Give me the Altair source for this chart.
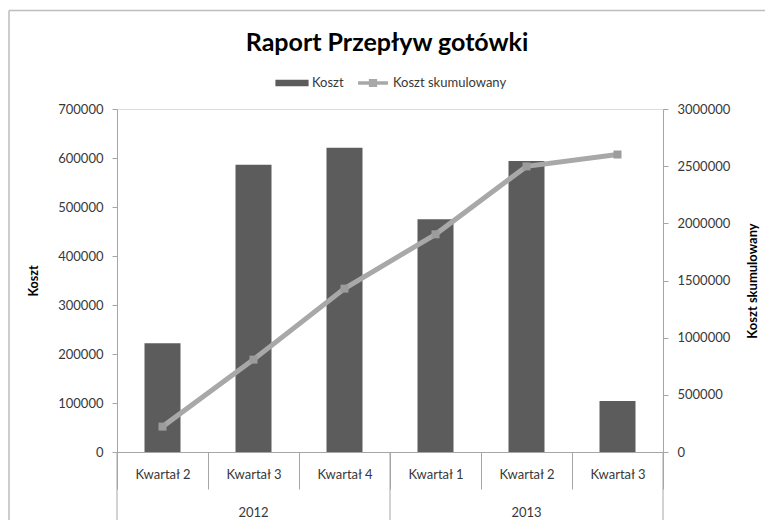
import altair as alt
import pandas as pd

# ---- data ----
years = ["2012", "2012", "2012", "2013", "2013", "2013"]
quarters = ["Kwartał 2", "Kwartał 3", "Kwartał 4", "Kwartał 1", "Kwartał 2", "Kwartał 3"]
koszt = [222000, 586000, 621000, 475000, 594000, 104000]
koszt_skum = [222000, 808000, 1429000, 1904000, 2498000, 2602000]
year_labels = ["2012", "2013"]
year_mid_quarter = ["Kwartał 3", "Kwartał 2"]
series_names = ["Koszt", "Koszt skumulowany"]

keys = [f"{y}|{q}" for y, q in zip(years, quarters)]

rows = []
for k, v in zip(keys, koszt):
    rows.append({"key": k, "series": series_names[0], "value": v})
for k, v in zip(keys, koszt_skum):
    rows.append({"key": k, "series": series_names[1], "value": v})
df = pd.DataFrame(rows)

df_years = pd.DataFrame({"key": [f"{y}|{q}" for y, q in zip(year_labels, year_mid_quarter)],
                         "label": year_labels})
df_starts = pd.DataFrame({"key": [keys[0], keys[3]]})
df_end = pd.DataFrame({"key": [keys[-1]]})
df_frame = pd.DataFrame({"a": [0]})

W, H = 546, 343
FONT = "Lato"
AX = "#a6a6a6"
LBL = "#383838"
BAR = "#5c5c5c"
LINE = "#a8a8a8"

RECT_PATH = "M-1,-0.2H1V0.2H-1Z"
LINE_PATH = "M-0.9,-0.11H-0.25V-0.24H0.25V-0.11H0.9V0.11H0.25V0.24H-0.25V0.11H-0.9Z"

xscale = alt.Scale(domain=keys, paddingInner=0, paddingOuter=0)

x_axis = alt.Axis(
    title=None, labelExpr="split(datum.label, '|')[1]", labelAngle=0,
    tickBand="extent", tickSize=37, tickColor=AX, domainColor=AX,
    labelPadding=-21, labelFont=FONT, labelFontSize=13, labelColor=LBL,
    labelBaseline="top",
)

base = alt.Chart(df)

bars = base.transform_filter(alt.datum.series == series_names[0]).mark_bar(size=36, color=BAR).encode(
    x=alt.X("key:O", scale=xscale, axis=x_axis, sort=keys),
    y=alt.Y("value:Q", scale=alt.Scale(domain=[0, 700000]),
            axis=alt.Axis(title="Koszt", values=list(range(0, 700001, 100000)), grid=False,
                          tickSize=5, tickColor=AX, domainColor=AX, labelPadding=9,
                          labelFont=FONT, labelFontSize=13, labelColor=LBL,
                          titleFont=FONT, titleFontSize=12.5, titleFontWeight="bold", titleColor="black",
                          titleX=-84, titleY=H / 2, titleAngle=270, titleAlign="center",
                          titleBaseline="middle", format="d")),
)

leg = dict(title=None, orient="none", direction="horizontal",
           legendX=158, legendY=-43, symbolSize=1100, columnPadding=12,
           symbolStrokeWidth=0, symbolOpacity=1,
           labelFont=FONT, labelFontSize=13, labelColor=LBL, labelOffset=3)

# legend carrier: no rows drawn, legend entries come from the explicit domains
legend_layer = base.transform_filter(alt.datum.value < 0).mark_point(filled=True, opacity=1).encode(
    x=alt.X("key:O", scale=xscale, sort=keys),
    y=alt.Y("value:Q", scale=alt.Scale(domain=[0, 700000]), axis=None),
    color=alt.Color("series:N", scale=alt.Scale(domain=series_names, range=[BAR, LINE]),
                    legend=alt.Legend(**leg)),
    shape=alt.Shape("series:N", scale=alt.Scale(domain=series_names, range=[RECT_PATH, LINE_PATH]),
                    legend=alt.Legend(**leg)),
)

line = base.transform_filter(alt.datum.series == series_names[1]).mark_line(strokeWidth=5, color=LINE).encode(
    x=alt.X("key:O", scale=xscale, sort=keys),
    y=alt.Y("value:Q", scale=alt.Scale(domain=[0, 3000000]),
            axis=alt.Axis(title="Koszt skumulowany", orient="right",
                          values=list(range(0, 3000001, 500000)), grid=False,
                          tickSize=5, tickColor=AX, domainColor=AX, labelPadding=9,
                          labelFont=FONT, labelFontSize=13, labelColor=LBL,
                          titleFont=FONT, titleFontSize=13, titleFontWeight="bold", titleColor="black",
                          titleX=89, titleY=H / 2, titleAngle=270, titleAlign="center",
                          titleBaseline="middle", format="d")),
)

pts = base.transform_filter(alt.datum.series == series_names[1]).mark_square(size=64, opacity=1, color="#9c9c9c").encode(
    x=alt.X("key:O", scale=xscale, sort=keys),
    y=alt.Y("value:Q", scale=alt.Scale(domain=[0, 3000000]), axis=None),
)

year_text = alt.Chart(df_years).mark_text(font=FONT, fontSize=13, color=LBL, baseline="middle").encode(
    x=alt.X("key:O", scale=xscale, sort=keys),
    y=alt.value(H + 61),
    text="label:N",
)

sep_start = alt.Chart(df_starts).mark_rule(color=AX, strokeWidth=1).encode(
    x=alt.X("key:O", scale=xscale, sort=keys, bandPosition=0),
    y=alt.value(H), y2=alt.value(H + 68),
)
sep_end = alt.Chart(df_end).mark_rule(color=AX, strokeWidth=1).encode(
    x=alt.X("key:O", scale=xscale, sort=keys, bandPosition=1),
    y=alt.value(H), y2=alt.value(H + 68),
)

frame_top = alt.Chart(df_frame).mark_rule(color="#bdbdbd", strokeWidth=1.5).encode(
    x=alt.value(-108), x2=alt.value(W + 110), y=alt.value(-98.5),
)
frame_left = alt.Chart(df_frame).mark_rule(color="#bdbdbd", strokeWidth=1.5).encode(
    x=alt.value(-108), y=alt.value(-98.5), y2=alt.value(H + 80),
)

chart = alt.layer(
    bars, line, pts, legend_layer, sep_start, sep_end, year_text, frame_top, frame_left
).resolve_scale(
    y="independent"
).properties(
    width=W, height=H,
    autosize=alt.AutoSizeParams(type="none"),
    padding={"left": 109, "top": 101, "right": 102, "bottom": 68},
    title=alt.TitleParams("Raport Przepływ gotówki", font=FONT, fontSize=25, fontWeight="bold",
                          color="black", anchor="middle", frame="group", offset=10, dy=56, dx=-3),
).configure_view(stroke=None).configure(background="white")

chart.save("out.html", embed_options={"renderer": "svg", "actions": False})
